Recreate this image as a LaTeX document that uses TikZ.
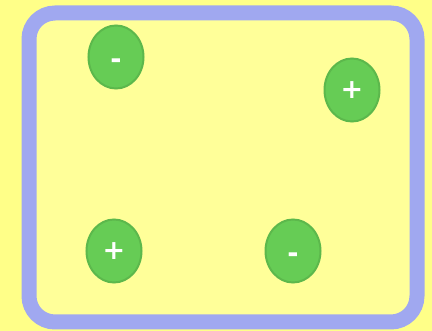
\documentclass[tikz,border=0pt]{standalone}
\usepackage{fontspec}
\setsansfont{DejaVu Sans}
\definecolor{bgyellow}{HTML}{FFFF88}
\definecolor{inyellow}{HTML}{FFFF99}
\definecolor{frameblue}{HTML}{A0A8F0}
\definecolor{chargegreen}{HTML}{66CC55}
\definecolor{chargeedge}{HTML}{5CB84C}
\tikzset{
  charge/.style={ellipse, draw=chargeedge, line width=2pt, fill=chargegreen,
    minimum width=55pt, minimum height=63pt, inner sep=0pt,
    text=white, font=\fontsize{27}{27}\selectfont\sffamily\bfseries},
  frame/.style={draw=frameblue, line width=15pt, fill=inyellow, rounded corners=26pt}
}
\usetikzlibrary{shapes.geometric}
\newcommand{\minussign}{\smash{\raisebox{-12pt}{-}}}
\begin{document}
\begin{tikzpicture}[x=1pt,y=-1pt]
\fill[bgyellow] (0,0) rectangle (432,331);
\useasboundingbox (0,0) rectangle (432,331);
\draw[frame] (29,13) rectangle (417,322);
\node[charge] (c1) at (116,57) {\minussign};
\node[charge] (c2) at (352,90) {+};
\node[charge] (c3) at (114,251) {+};
\node[charge] (c4) at (293,251) {\minussign};
\end{tikzpicture}
\end{document}
